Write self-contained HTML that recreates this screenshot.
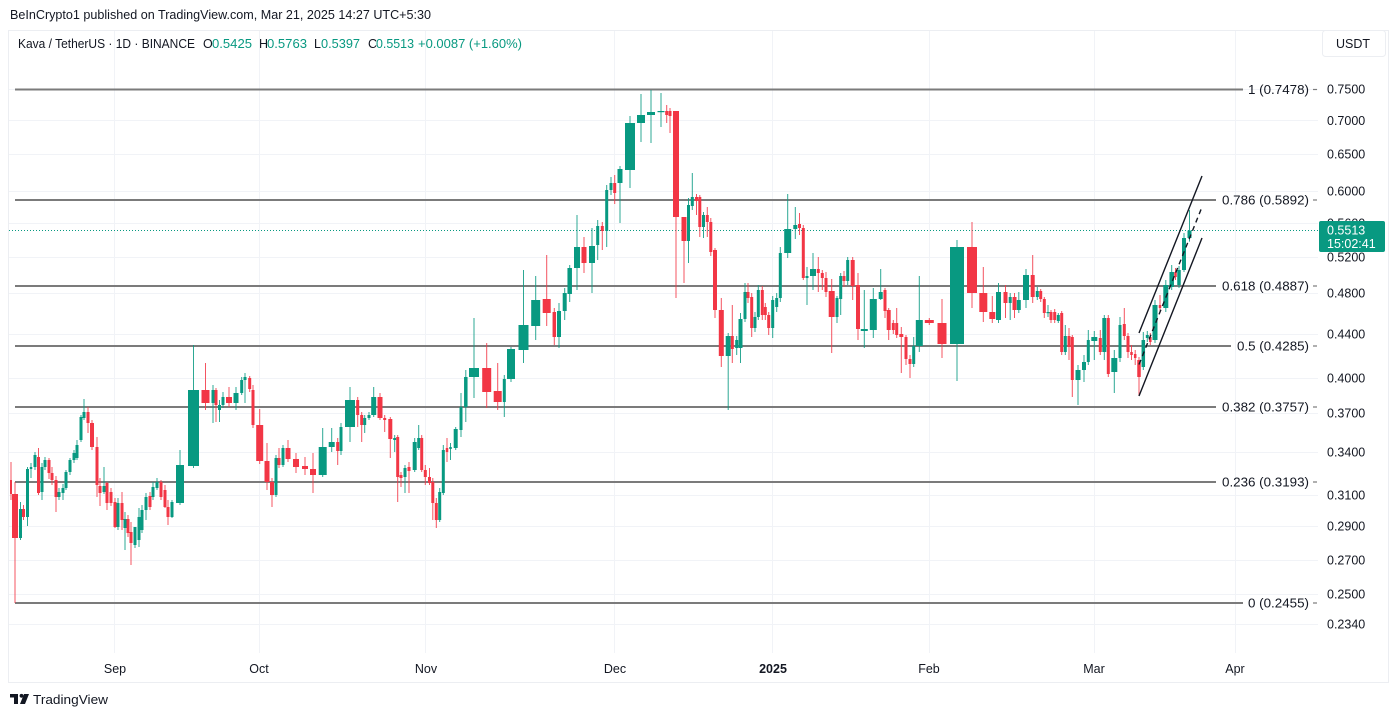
<!DOCTYPE html>
<html>
<head>
<meta charset="utf-8">
<style>
  html,body{margin:0;padding:0;background:#ffffff;}
  body{width:1400px;height:717px;overflow:hidden;position:relative;font-family:"Liberation Sans",Arial,sans-serif;}
  svg{position:absolute;left:0;top:0;}
  text{font-family:"Liberation Sans",Arial,sans-serif;}
</style>
</head>
<body>
<svg id="chart" width="1400" height="717" viewBox="0 0 1400 717" xmlns="http://www.w3.org/2000/svg">
  <rect x="0" y="0" width="1400" height="717" fill="#ffffff"/>
  <!-- header -->
  <text x="10" y="19" font-size="12.5" fill="#131722" textLength="421" lengthAdjust="spacingAndGlyphs">BeInCrypto1 published on TradingView.com, Mar 21, 2025 14:27 UTC+5:30</text>

  <!-- frame -->
  <rect x="8.5" y="30.5" width="1380" height="652" fill="none" stroke="#eceef2" stroke-width="1"/>

  <!-- horizontal grid -->
  <g stroke="#f1f3f7" stroke-width="1">
    <line x1="9" x2="1318" y1="89.5" y2="89.5"/>
    <line x1="9" x2="1318" y1="120.5" y2="120.5"/>
    <line x1="9" x2="1318" y1="154.5" y2="154.5"/>
    <line x1="9" x2="1318" y1="191.5" y2="191.5"/>
    <line x1="9" x2="1318" y1="223.5" y2="223.5"/>
    <line x1="9" x2="1318" y1="257.5" y2="257.5"/>
    <line x1="9" x2="1318" y1="293.5" y2="293.5"/>
    <line x1="9" x2="1318" y1="334.5" y2="334.5"/>
    <line x1="9" x2="1318" y1="378.5" y2="378.5"/>
    <line x1="9" x2="1318" y1="413.5" y2="413.5"/>
    <line x1="9" x2="1318" y1="452.5" y2="452.5"/>
    <line x1="9" x2="1318" y1="495.5" y2="495.5"/>
    <line x1="9" x2="1318" y1="526.5" y2="526.5"/>
    <line x1="9" x2="1318" y1="560.5" y2="560.5"/>
    <line x1="9" x2="1318" y1="594.5" y2="594.5"/>
    <line x1="9" x2="1318" y1="624.5" y2="624.5"/>
  </g>
  <!-- vertical grid -->
  <g stroke="#f1f3f7" stroke-width="1">
    <line x1="114.5" x2="114.5" y1="31" y2="653"/>
    <line x1="259.5" x2="259.5" y1="31" y2="653"/>
    <line x1="425.5" x2="425.5" y1="31" y2="653"/>
    <line x1="614.5" x2="614.5" y1="31" y2="653"/>
    <line x1="772.5" x2="772.5" y1="31" y2="653"/>
    <line x1="929.5" x2="929.5" y1="31" y2="653"/>
    <line x1="1094.5" x2="1094.5" y1="31" y2="653"/>
    <line x1="1235.5" x2="1235.5" y1="31" y2="653"/>
  </g>

  <!-- legend -->
  <g font-size="12.5">
    <text x="18" y="48" fill="#131722" textLength="177" lengthAdjust="spacingAndGlyphs">Kava / TetherUS · 1D · BINANCE</text>
    <text x="203" y="48" fill="#131722">O</text>
    <text x="212" y="48" fill="#089981" textLength="40" lengthAdjust="spacingAndGlyphs">0.5425</text>
    <text x="259" y="48" fill="#131722">H</text>
    <text x="267" y="48" fill="#089981" textLength="40" lengthAdjust="spacingAndGlyphs">0.5763</text>
    <text x="314" y="48" fill="#131722">L</text>
    <text x="321" y="48" fill="#089981" textLength="39" lengthAdjust="spacingAndGlyphs">0.5397</text>
    <text x="368" y="48" fill="#131722">C</text>
    <text x="376" y="48" fill="#089981" textLength="38" lengthAdjust="spacingAndGlyphs">0.5513</text>
    <text x="418" y="48" fill="#089981" textLength="104" lengthAdjust="spacingAndGlyphs">+0.0087 (+1.60%)</text>
  </g>

  <!-- USDT box -->
  <rect x="1322.5" y="30.5" width="63" height="26" rx="3" fill="#ffffff" stroke="#eceef2"/>
  <text x="1353" y="48" font-size="12.5" fill="#131722" text-anchor="middle">USDT</text>

  <!-- fib lines -->
  <g stroke="#7b7b7b" stroke-width="2">
    <line x1="15" x2="1243" y1="89.5" y2="89.5"/>
    <line x1="15" x2="1216" y1="200" y2="200"/>
    <line x1="15" x2="1216" y1="286" y2="286"/>
    <line x1="15" x2="1231" y1="346" y2="346"/>
    <line x1="15" x2="1216" y1="407" y2="407"/>
    <line x1="15" x2="1216" y1="482" y2="482"/>
    <line x1="15" x2="1243" y1="603" y2="603"/>
  </g>
  <g stroke="#7b7b7b" stroke-width="1.2">
    <line x1="1313" x2="1317" y1="89.5" y2="89.5"/>
    <line x1="1313" x2="1317" y1="200" y2="200"/>
    <line x1="1313" x2="1317" y1="286" y2="286"/>
    <line x1="1313" x2="1317" y1="346" y2="346"/>
    <line x1="1313" x2="1317" y1="407" y2="407"/>
    <line x1="1313" x2="1317" y1="482" y2="482"/>
    <line x1="1313" x2="1317" y1="603" y2="603"/>
  </g>
  <g font-size="12.5" fill="#131722">
    <text x="1248" y="94" textLength="61" lengthAdjust="spacingAndGlyphs">1 (0.7478)</text>
    <text x="1222" y="204.5" textLength="87" lengthAdjust="spacingAndGlyphs">0.786 (0.5892)</text>
    <text x="1222" y="290.5" textLength="87" lengthAdjust="spacingAndGlyphs">0.618 (0.4887)</text>
    <text x="1237" y="350.5" textLength="72" lengthAdjust="spacingAndGlyphs">0.5 (0.4285)</text>
    <text x="1222" y="411.5" textLength="87" lengthAdjust="spacingAndGlyphs">0.382 (0.3757)</text>
    <text x="1222" y="486.5" textLength="87" lengthAdjust="spacingAndGlyphs">0.236 (0.3193)</text>
    <text x="1248" y="607.5" textLength="61" lengthAdjust="spacingAndGlyphs">0 (0.2455)</text>
  </g>

  <!-- current price dotted line -->
  <line x1="9" x2="1320" y1="230.5" y2="230.5" stroke="#089981" stroke-width="1" stroke-dasharray="1 2"/>

  <!-- candles -->
  <g id="candles"></g>

  <!-- channel -->
  <g stroke="#131722" stroke-width="1.4" fill="none">
    <line x1="1139" y1="333" x2="1202" y2="176"/>
    <line x1="1139" y1="396" x2="1202" y2="238"/>
    <line x1="1139" y1="364.5" x2="1202" y2="207" stroke-dasharray="5 4"/>
  </g>

  <!-- price axis labels -->
  <g font-size="12.5" fill="#131722">
    <text x="1327" y="93.5">0.7500</text>
    <text x="1327" y="125">0.7000</text>
    <text x="1327" y="158.5">0.6500</text>
    <text x="1327" y="195.5">0.6000</text>
    <text x="1327" y="227.5">0.5600</text>
    <text x="1327" y="261.5">0.5200</text>
    <text x="1327" y="297.5">0.4800</text>
    <text x="1327" y="338.5">0.4400</text>
    <text x="1327" y="382.5">0.4000</text>
    <text x="1327" y="417.5">0.3700</text>
    <text x="1327" y="456.5">0.3400</text>
    <text x="1327" y="499.5">0.3100</text>
    <text x="1327" y="530.5">0.2900</text>
    <text x="1327" y="564.5">0.2700</text>
    <text x="1327" y="598.5">0.2500</text>
    <text x="1327" y="628.5">0.2340</text>
  </g>

  <!-- current price tag -->
  <rect x="1319" y="221" width="66" height="31" rx="2" fill="#089981"/>
  <text x="1327" y="234.5" font-size="12.5" fill="#ffffff">0.5513</text>
  <text x="1327" y="248" font-size="12.5" fill="#ffffff">15:02:41</text>

  <!-- time axis -->
  <g font-size="12.5" fill="#131722" text-anchor="middle">
    <text x="115" y="673">Sep</text>
    <text x="259" y="673">Oct</text>
    <text x="426" y="673">Nov</text>
    <text x="615" y="673">Dec</text>
    <text x="773" y="673" font-weight="bold">2025</text>
    <text x="929" y="673">Feb</text>
    <text x="1094" y="673">Mar</text>
    <text x="1235" y="673">Apr</text>
  </g>

  <!-- TradingView logo -->
  <g fill="#131722">
    <rect x="10" y="694" width="8" height="3.5"/>
    <rect x="14" y="694" width="4" height="10"/>
    <circle cx="21.5" cy="695.8" r="1.9"/>
    <polygon points="24,694 29,694 25,704 20,704"/>
  </g>
  <text x="33" y="704" font-size="13" fill="#131722" textLength="75" lengthAdjust="spacingAndGlyphs">TradingView</text>
</svg>
<script>
(function(){
  var G="#089981", R="#f23645";
  // [x, open_y, close_y, high_y, low_y, width]
  var d=[
[11,480,494,462,500,2],[15,494,538,482,603,6],[20.5,538,509,502,540,3],[23.5,509,517,505,520,3],[27.5,517,469,467,526,3],
[31,469,467,463,478,2.5],[35,467,455,452,470,3],[38.5,457,493,448,495,3],[42,492,467,463,500,3],[45,467,460,457,470,3],
[49,460,473,458,479,3],[52,473,480,467,485,3],[56,480,497,476,512,3],[59,497,492,488,500,3],[63,493,488,484,500,3],
[66,488,472,470,490,3],[70,472,460,458,475,3],[74,460,453,450,463,3],[77,458,445,440,460,3],[81,440,417,415,442,3],
[84,418,412,399,420,3],[88,412,423,407,433,3],[92,423,447,420,450,4],[97,447,485,437,497,3],[100,486,493,478,506,3],
[104,492,486,467,494,3],[107,483,503,482,510,3],[111,492,503,488,506,3],[115,502,527,498,528,3],[118,527,503,498,530,3],
[122,503,520,492,530,3],[125,528,519,512,550,3],[128,519,533,515,537,3],[131,532,543,522,565,3],[135,545,527,527,548,3],
[139,540,517,508,547,3],[142,530,510,505,533,3],[146,510,497,493,520,3],[150,496,507,492,510,3],[153,497,487,482,500,3],
[157,488,482,478,490,3],[161,482,497,480,500,3],[165,490,507,485,508,3],[168,507,517,500,525,3],[172,517,502,500,518,3],
[180,503,465,450,505,8],[193.5,466,390,345,468,11],[205.5,390,403,363,410,8],
[213,403,390,385,423,3],[216,390,405,388,422,3],[219.5,410,405,400,422,3],[223,405,397,392,408,3],[229,397,403,387,407,6],
[236,403,393,387,410,5],[241.7,393,380,377,395,3],[245,380,377,373,403,3],[249.7,378,389,376,392,3],[253,390,425,385,428,3],
[259.7,425,461,409,464,7],[267,461,482,443,490,5],[272,482,495,478,507,4],[276,495,458,455,497,3],[279,458,465,448,468,3],
[283,465,448,445,467,3],[288,448,459,440,462,5],[296,459,467,453,473,6],[305,466,469,457,475,6],[313,469,475,453,493,6],
[322.7,475,447,428,477,8],[331.7,447,442,428,452,6],[337.7,442,451,438,465,3],[341,451,427,423,455,3],[350,427,400,387,442,10],
[357.7,400,415,397,427,3],[361.7,415,425,412,442,3],[364.7,425,418,415,433,3],[369,418,415,412,420,3],[373.7,415,397,387,417,5],
[380,397,418,393,420,5],[384.7,418,420,415,432,3],[390.3,419,439,417,458,4],[394.7,440,438,435,452,3],[397.7,437,477,435,502,3],
[401,475,478,472,487,3],[405,477,468,465,493,3],[409,467,471,462,493,3],[414.7,470,442,438,472,4],[418.7,448,438,425,450,3],
[421.7,438,470,435,472,3],[425.3,470,477,465,485,3],[429.5,477,483,468,485,3],[432.8,482,503,478,520,3],[436.3,503,520,498,528,3],
[439.7,520,492,488,522,3],[443.3,493,450,445,495,3],[447,448,452,438,462,2.5],[450.5,449,447,443,460,2.5],[455.7,448,429,427,450,4],
[461,430,407,393,437,3],[465.8,407,377,370,422,3.5],[474,377,368,318,398,10],[486.7,368,392,343,408,9],[497.7,391,402,363,410,8],
[504.3,402,379,375,417,3],[511,379,349,347,382,8],[523.5,350,325,270,363,10],[535.7,326,300,276,340,9],[546.7,299,313,255,326,8],
[554.3,312,337,308,345,3.5],[559,337,311,303,348,4],[564.7,311,293,288,320,4],[569.7,294,268,265,302,4.5],[577,268,247,215,290,6],
[584,247,263,237,273,5],[592,263,246,228,293,6],[597.7,245,226,220,260,3],[602.3,226,231,222,250,3],[606.7,231,190,185,247,3],
[611,190,183,177,195,3],[614.7,183,193,175,204,3],[620,183,169,166,223,5],[630,170,123,116,188,10],[641,123,115,94,142,8],
[651,115,112,90,143,8],[661,112,111,93,127,7],[666.7,111,115,105,123,3],[670,111,116,108,133,3],[676,111,217,111,298,6],
[684,217,241,217,283,5],[688.5,241,205,198,263,3],[692.3,206,197,173,210,3],[696.5,197,201,194,215,3],[699.8,197,227,195,237,3],
[703.5,227,215,212,238,3],[707.3,215,222,207,237,3],[710.8,222,252,218,256,3],[715,250,310,248,318,4],[721.3,310,356,298,367,5],
[728.2,356,336,333,410,5],[732.3,336,349,305,363,3],[736.7,348,340,336,355,3],[740.5,348,319,313,363,4],[745,319,292,283,322,3],
[748,292,298,283,303,3],[751.7,297,328,293,337,3],[755,328,317,312,332,3],[758.3,317,290,285,320,3],[762.3,290,315,286,320,3],
[765.3,307,315,303,320,3],[768.7,315,328,312,335,3],[772.7,328,300,296,338,3],[776.7,307,298,293,312,3],[780.3,298,253,247,302,3],
[787.7,253,229,194,258,7],[795.3,229,225,207,239,4],[799.5,224,228,213,235,3],[803.3,228,278,225,280,3],[807,278,276,267,305,3],
[813,276,269,253,290,6],[818.3,269,273,257,292,3],[822.3,273,278,270,290,3],[826,278,292,272,297,3],[831.7,291,317,279,353,6],
[837,317,298,296,323,3],[840.7,299,276,273,315,3],[844,276,281,271,287,3],[847.7,281,260,257,285,3],[852.7,260,286,257,300,4],
[858,285,329,273,340,4],[864.3,331,329,290,348,7],[873.3,330,299,288,338,7],[880.7,299,292,269,300,4],[885,290,311,288,318,3],
[888.7,310,330,308,340,4],[893.3,323,330,320,334,3],[896.7,323,335,308,338,3],[901.3,334,337,327,373,4],[906,337,359,335,365,3],
[910,359,364,355,378,3],[913.7,364,346,337,367,3],[919.3,346,320,276,352,7],[929.3,320,323,318,325,9],[942,323,344,299,358,9],
[957,344,247,240,381,14],[972,247,293,222,308,10],[983.3,293,312,267,322,8],[992.3,312,319,296,323,6],[998.5,320,292,283,323,5],
[1005.5,292,303,285,318,4],[1010.2,303,297,293,320,3],[1014.5,297,310,293,318,4],[1018.8,310,300,292,313,4],[1026,300,275,269,308,6],
[1032.7,275,297,255,303,4],[1037.3,297,291,287,300,3],[1040.7,291,299,289,302,3],[1044.3,299,313,297,318,3],[1048,313,312,305,317,3],
[1051,312,320,310,323,3],[1054.7,312,320,309,323,3],[1058.3,321,315,313,323,3],[1061.7,313,352,311,355,3],[1065.3,352,336,325,355,3],
[1069,336,347,328,360,3],[1072.3,337,380,335,397,3],[1078,380,370,365,405,5],[1084,370,362,355,382,4],[1088.3,362,340,330,365,3],
[1094.3,341,337,331,360,6],[1100.3,338,352,330,355,3],[1104.3,352,318,315,360,4],[1108.3,318,374,315,377,3],[1114.3,372,358,350,393,6],
[1120,358,325,317,362,3],[1124.3,324,336,308,340,3],[1128,336,352,333,358,3],[1131.5,352,355,345,360,2.5],[1135.2,354,358,350,365,2.5],
[1139,360,377,357,396,3.5],[1143.3,367,340,332,370,3.5],[1147.3,338,335,331,342,3],[1150.3,337,342,333,345,2.5],[1155,340,305,300,343,5],
[1160,305,308,295,312,2.5],[1165.8,308,285,280,312,5],[1171.7,287,272,265,290,4.5],[1175.5,272,277,268,280,2.5],[1179,285,270,266,288,3.5],
[1184,270,238,233,272,4],[1189.5,238,230.6,210,241.6,4]
  ];
  var ns="http://www.w3.org/2000/svg";
  var g=document.getElementById("candles");
  var html="";
  for(var i=0;i<d.length;i++){
    var c=d[i], x=c[0], o=c[1], cl=c[2], h=c[3], l=c[4], w=c[5];
    var col = cl<o ? G : R;
    var top=Math.min(o,cl), bot=Math.max(o,cl);
    if(h>top) h=top; if(l<bot) l=bot;
    html+='<rect x="'+(x-0.5).toFixed(2)+'" y="'+h+'" width="1" height="'+(l-h).toFixed(2)+'" fill="'+col+'" opacity="0.85"/>';
    var bh=Math.max(1.2,bot-top);
    html+='<rect x="'+(x-w/2).toFixed(2)+'" y="'+top+'" width="'+w+'" height="'+bh.toFixed(2)+'" fill="'+col+'"/>';
  }
  g.innerHTML=html;
})();
</script>
</body>
</html>
